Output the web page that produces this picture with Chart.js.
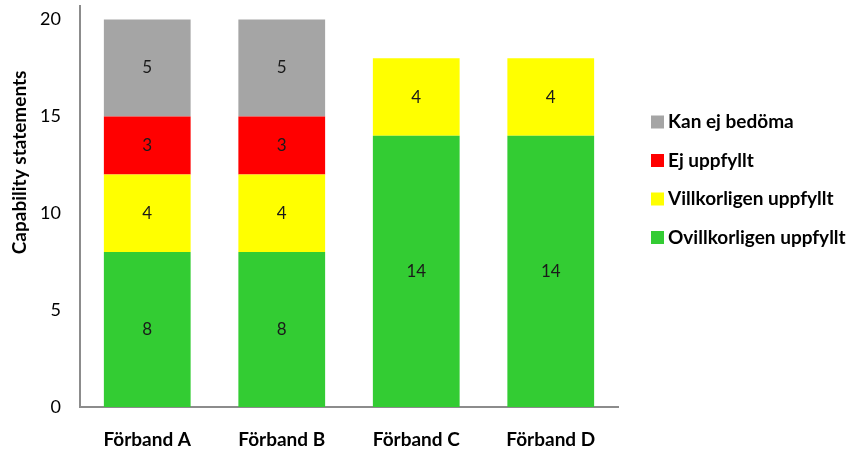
<!DOCTYPE html>
<html>
<head>
<meta charset="utf-8">
<script src="https://cdn.jsdelivr.net/npm/chart.js@4"></script>
<style>
  body { margin: 0; background: #fff; }
  #wrap { width: 854px; height: 450px; }
</style>
</head>
<body>
<div id="wrap"><canvas id="chart"></canvas></div>
<script>
const categories = ['Förband A', 'Förband B', 'Förband C', 'Förband D'];
const ovillkorligen = [8, 8, 14, 14];
const villkorligen = [4, 4, 4, 4];
const ejUppfyllt = [3, 3, 0, 0];
const kanEjBedoma = [5, 5, 0, 0];
const yTicks = [0, 5, 10, 15, 20];

const FONT = 'Lato, "Open Sans", sans-serif';

// values written in the middle of each segment
const segmentLabels = {
    id: 'segmentLabels',
    afterDatasetsDraw(chart) {
        const ctx = chart.ctx;
        ctx.save();
        ctx.font = '17px ' + FONT;
        ctx.fillStyle = '#1a1a1a';
        ctx.textAlign = 'center';
        ctx.textBaseline = 'middle';
        chart.data.datasets.forEach((ds, i) => {
            const meta = chart.getDatasetMeta(i);
            meta.data.forEach((bar, j) => {
                const v = ds.data[j];
                if (!v) return;
                ctx.fillText(String(v), bar.x, (bar.y + bar.base) / 2);
            });
        });
        ctx.restore();
    }
};

// y axis title, a bit above the middle like the original
const yTitle = {
    id: 'yTitle',
    afterDraw(chart) {
        const area = chart.chartArea;
        const ctx = chart.ctx;
        ctx.save();
        ctx.translate(20, area.top + (area.bottom - area.top) * 0.39);
        ctx.rotate(-Math.PI / 2);
        ctx.font = 'bold 19px ' + FONT;
        ctx.fillStyle = '#000';
        ctx.textAlign = 'center';
        ctx.textBaseline = 'middle';
        ctx.fillText('Capability statements', 0, 0);
        ctx.restore();
    }
};

// legend on the right, top entry = top of the stack
const sideLegend = {
    id: 'sideLegend',
    afterDraw(chart) {
        const area = chart.chartArea;
        const ctx = chart.ctx;
        const sets = chart.data.datasets.slice().reverse();
        ctx.save();
        ctx.font = 'bold 19px ' + FONT;
        ctx.textBaseline = 'middle';
        ctx.textAlign = 'left';
        sets.forEach((ds, i) => {
            const x = area.right + 33;
            const y = area.top + 116 + i * 38.5;
            ctx.fillStyle = ds.backgroundColor;
            ctx.fillRect(x, y - 6.5, 13, 13);
            ctx.fillStyle = '#000';
            ctx.fillText(ds.label, x + 17, y);
        });
        ctx.restore();
    }
};

new Chart(document.getElementById('chart'), {
    type: 'bar',
    data: {
        labels: categories,
        datasets: [
            { label: 'Ovillkorligen uppfyllt', data: ovillkorligen, backgroundColor: '#33CC33' },
            { label: 'Villkorligen uppfyllt', data: villkorligen, backgroundColor: '#FFFF00' },
            { label: 'Ej uppfyllt', data: ejUppfyllt, backgroundColor: '#FF0000' },
            { label: 'Kan ej bedöma', data: kanEjBedoma, backgroundColor: '#A5A5A5' },
        ],
    },
    options: {
        responsive: true,
        maintainAspectRatio: false,
        animation: false,
        layout: { padding: { left: 0, top: 6, right: 236, bottom: 0 } },
        datasets: { bar: { categoryPercentage: 1, barPercentage: 0.645 } },
        scales: {
            x: {
                stacked: true,
                grid: { display: false, drawTicks: false },
                border: { color: '#8c8c8c', width: 2 },
                ticks: { color: '#000', padding: 21, font: { family: FONT, size: 19, weight: 'bold' } },
                afterFit: (scale) => {
                    scale.height = 43;
                    scale.paddingLeft = 0;
                    scale.paddingRight = 0;
                },
            },
            y: {
                stacked: true,
                min: 0,
                max: 20.7,
                grid: { display: false, drawTicks: false },
                border: { color: '#8c8c8c', width: 2 },
                afterBuildTicks: (scale) => {
                    scale.ticks = yTicks.map((v) => ({ value: v }));
                },
                ticks: { color: '#000', padding: 19, font: { family: FONT, size: 18 } },
                afterFit: (scale) => {
                    scale.width = 80;
                    scale.paddingTop = 0;
                    scale.paddingBottom = 0;
                },
            },
        },
        plugins: {
            legend: { display: false },
            tooltip: { enabled: false },
        },
    },
    plugins: [segmentLabels, yTitle, sideLegend],
});
</script>
</body>
</html>
